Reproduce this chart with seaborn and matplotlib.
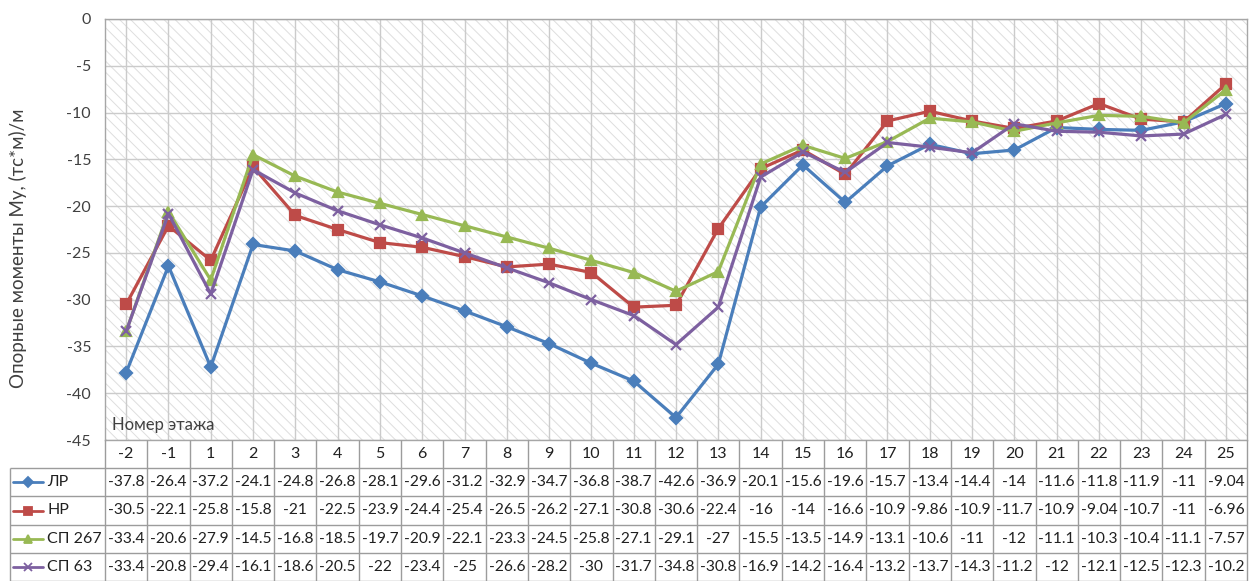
import numpy as np
import pandas as pd
import seaborn as sns
import matplotlib
matplotlib.use("Agg")
from matplotlib import pyplot as plt

floors = ["-2", "-1", "1", "2", "3", "4", "5", "6", "7", "8", "9", "10", "11", "12", "13",
          "14", "15", "16", "17", "18", "19", "20", "21", "22", "23", "24", "25"]

lr = [-37.8, -26.4, -37.2, -24.1, -24.8, -26.8, -28.1, -29.6, -31.2, -32.9, -34.7, -36.8, -38.7, -42.6,
      -36.9, -20.1, -15.6, -19.6, -15.7, -13.4, -14.4, -14, -11.6, -11.8, -11.9, -11, -9.04]
nr = [-30.5, -22.1, -25.8, -15.8, -21, -22.5, -23.9, -24.4, -25.4, -26.5, -26.2, -27.1, -30.8, -30.6,
      -22.4, -16, -14, -16.6, -10.9, -9.86, -10.9, -11.7, -10.9, -9.04, -10.7, -11, -6.96]
sp267 = [-33.4, -20.6, -27.9, -14.5, -16.8, -18.5, -19.7, -20.9, -22.1, -23.3, -24.5, -25.8, -27.1, -29.1,
         -27, -15.5, -13.5, -14.9, -13.1, -10.6, -11, -12, -11.1, -10.3, -10.4, -11.1, -7.57]
sp63 = [-33.4, -20.8, -29.4, -16.1, -18.6, -20.5, -22, -23.4, -25, -26.6, -28.2, -30, -31.7, -34.8,
        -30.8, -16.9, -14.2, -16.4, -13.2, -13.7, -14.3, -11.2, -12, -12.1, -12.5, -12.3, -10.2]

series_names = ["ЛР", "НР", "СП 267", "СП 63"]
series_values = [lr, nr, sp267, sp63]

colors = ["#4a7ebb", "#be4b48", "#98b954", "#7d60a0"]
markers = ["D", "s", "^", "x"]
marker_sizes = [6, 7, 7.5, 7]

sns.set_theme(style="white")
plt.rcParams["font.family"] = ["Lato", "DejaVu Sans"]
plt.rcParams["hatch.linewidth"] = 0.7
plt.rcParams["axes.unicode_minus"] = False

df = pd.DataFrame({"pos": np.arange(len(floors))})
for name, vals in zip(series_names, series_values):
    df[name] = vals

W, H = 1250, 581
fig = plt.figure(figsize=(W / 100, H / 100), dpi=100)
ax = fig.add_axes([105 / W, 141 / H, 1142 / W, 421 / H])

# striped plot area like the excel chart
ax.patch.set_facecolor("white")
ax.patch.set_hatch("\\\\\\")
ax.patch.set_edgecolor("#dedede")

for name, c, m, ms in zip(series_names, colors, markers, marker_sizes):
    sns.lineplot(ax=ax, data=df, x="pos", y=name, color=c, marker=m, markersize=ms,
                 markeredgecolor=c, markerfacecolor=c, markeredgewidth=1.6,
                 linewidth=2.3, zorder=3)

ax.set_xlim(-0.5, len(floors) - 0.5)
ax.set_xticks(np.arange(len(floors)))
ax.set_xticklabels([])
ax.set_ylim(-45, 0)
ax.set_yticks(np.arange(-45, 1, 5))
ax.tick_params(axis="both", length=0, labelsize=11.5, colors="#404040", pad=10)
ax.grid(True, color="#cbcbcb", linewidth=1.0)
ax.set_axisbelow(True)
for sp in ax.spines.values():
    sp.set_color("#a6a6a6")
    sp.set_linewidth(1.0)

ax.set_xlabel("")
ax.set_ylabel("Опорные моменты Mу, (тс*м)/м", fontsize=13.5, color="#404040")
ax.yaxis.set_label_coords(-0.068, 0.456)
ax.text(0.006, 0.036, "Номер этажа", transform=ax.transAxes, fontsize=12,
        color="#404040", ha="left", va="center")

# data table under the chart
ax_t = fig.add_axes([105 / W, 0, 1142 / W, 141 / H])
ax_t.set_xlim(-0.5, len(floors) - 0.5)
ax_t.set_ylim(5, 0)
ax_t.axis("off")

tcol = "#9c9c9c"
legend_left = -2.74
ax_t.vlines(np.arange(len(floors) + 1) - 0.5, 0, 5, color=tcol, lw=1.0, clip_on=False)
ax_t.vlines(legend_left, 1, 5, color=tcol, lw=1.0, clip_on=False)
ax_t.hlines(np.arange(1, 6), legend_left, len(floors) - 0.5, color=tcol, lw=1.0, clip_on=False)

for i, f in enumerate(floors):
    ax_t.text(i, 0.5, f, ha="center", va="center", fontsize=11.5, color="#202020")

for r, (name, vals, c, m, ms) in enumerate(zip(series_names, series_values, colors, markers, marker_sizes)):
    y = r + 1.5
    for i, v in enumerate(vals):
        ax_t.text(i, y, f"{v:g}", ha="center", va="center", fontsize=11.2, color="#202020")
    ax_t.plot([-2.67, -2.315, -1.96], [y, y, y], color=c, lw=2.0, marker=m, markevery=[1],
              markersize=ms * 0.8, markeredgecolor=c, markerfacecolor=c, markeredgewidth=1.3,
              clip_on=False)
    ax_t.text(-1.86, y, name, ha="left", va="center", fontsize=11.5, color="#202020")

fig.savefig("out.png", dpi=100)
